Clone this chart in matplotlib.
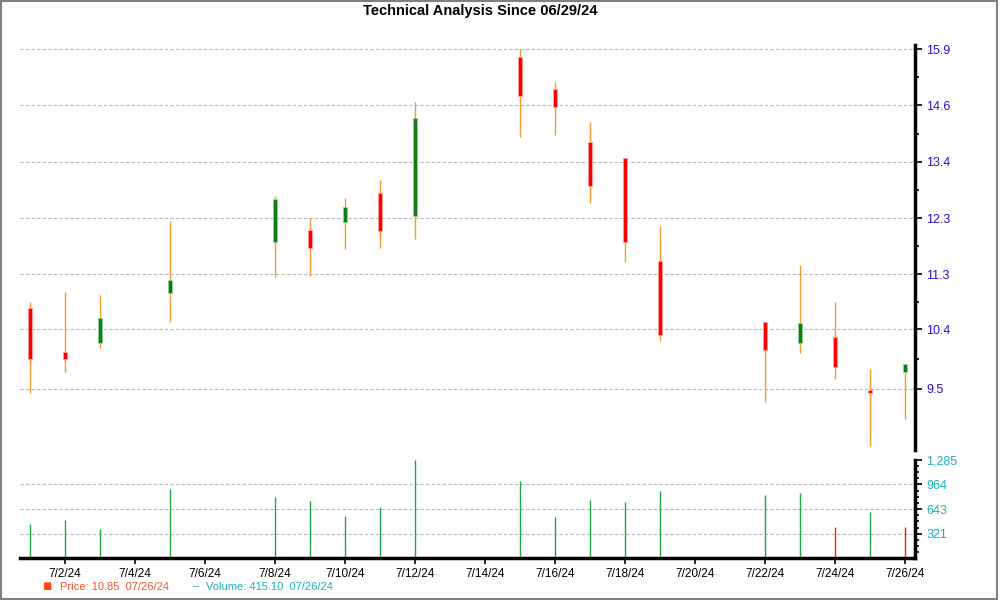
import matplotlib
matplotlib.use("Agg")
import matplotlib.pyplot as plt
import matplotlib.dates as mdates
from matplotlib.patches import Rectangle
from matplotlib.ticker import FixedLocator, NullFormatter
import numpy as np
import pandas as pd

plt.rcParams['font.family'] = ['Liberation Sans', 'DejaVu Sans']

#### DATA ####

dates = ["2024-07-01", "2024-07-02", "2024-07-03", "2024-07-05", "2024-07-08",
         "2024-07-09", "2024-07-10", "2024-07-11", "2024-07-12", "2024-07-15",
         "2024-07-16", "2024-07-17", "2024-07-18", "2024-07-19", "2024-07-22",
         "2024-07-23", "2024-07-24", "2024-07-25", "2024-07-26"]

opens  = [10.74, 10.05, 10.19, 10.99, 11.86, 12.08, 12.24, 12.78, 12.34, 15.72,
          14.96, 13.82, 13.49, 11.54, 10.52, 10.18, 10.27, 9.49, 9.74]
highs  = [10.83, 11.00, 10.95, 12.25, 12.73, 12.31, 12.68, 13.04, 14.68, 15.90,
          15.13, 14.24, 13.49, 12.16, 10.52, 11.47, 10.84, 9.79, 9.86]
lows   = [9.44, 9.74, 10.10, 10.52, 11.26, 11.28, 11.74, 11.76, 11.92, 13.92,
          13.96, 12.59, 11.51, 10.21, 9.32, 10.03, 9.64, 8.71, 9.07]
closes = [9.94, 9.94, 10.58, 11.20, 12.66, 11.77, 12.51, 12.06, 14.32, 14.80,
          14.56, 12.92, 11.86, 10.31, 10.08, 10.50, 9.82, 9.44, 9.86]

volumes = [448, 500, 383, 905, 800, 748, 552, 670, 1284, 1015,
           545, 767, 740, 884, 832, 858, 415, 610, 415]
volume_up = [1, 1, 1, 1, 1, 1, 1, 1, 1, 1,
             1, 1, 1, 1, 1, 1, 0, 1, 0]

price_ticks = [9.5, 10.4, 11.3, 12.3, 13.4, 14.6, 15.9]
volume_ticks = [321, 643, 964, 1285]
volume_labels = ["321", "643", "964", "1,285"]

tick_dates = ["2024-07-02", "2024-07-04", "2024-07-06", "2024-07-08", "2024-07-10",
              "2024-07-12", "2024-07-14", "2024-07-16", "2024-07-18", "2024-07-20",
              "2024-07-22", "2024-07-24", "2024-07-26"]
tick_labels = ["7/2/24", "7/4/24", "7/6/24", "7/8/24", "7/10/24", "7/12/24", "7/14/24",
               "7/16/24", "7/18/24", "7/20/24", "7/22/24", "7/24/24", "7/26/24"]

title = "Technical Analysis Since 06/29/24"
price_legend = "Price: 10.85  07/26/24"
volume_legend = "Volume: 415.10  07/26/24"

#### COLOURS ####

wick_col = '#f39a2a'
up_col, up_edge = '#0a7f12', '#8fcf93'
down_col, down_edge = '#ff0000', '#ff9a9a'
vol_up_col, vol_down_col = '#1fa843', '#ff1a00'
price_lab_col = '#2a10c8'
vol_lab_col = '#1ab0b8'
grid_col = '#b8b8b8'

x = mdates.date2num(pd.to_datetime(dates))
opens = np.asarray(opens)
closes = np.asarray(closes)
up = closes >= opens

fig = plt.figure(figsize=(10, 6), dpi=100)
ax = fig.add_axes([0.02, 1 - 450/600, 0.895, (450 - 44.5)/600])
axv = fig.add_axes([0.02, 1 - 558.3/600, 0.895, (558.3 - 459.5)/600], sharex=ax)

#### PRICE PANEL ####

ax.vlines(x, lows, highs, color=wick_col, lw=1.0, zorder=2)
body_low = np.minimum(opens, closes)
body_h = np.abs(closes - opens)
body_h = np.maximum(body_h, 0.04)
ax.bar(x, body_h, bottom=body_low, width=0.14,
       color=np.where(up, up_col, down_col),
       edgecolor=np.where(up, up_edge, down_edge), linewidth=0.7, zorder=3)

ax.set_yscale('log')
ax.set_ylim(8.66, 16.01)
ax.yaxis.tick_right()
ax.yaxis.set_major_locator(FixedLocator(price_ticks))
ax.set_yticklabels(["%.1f" % t for t in price_ticks])
mids = [np.sqrt(a*b) for a, b in zip(price_ticks[:-1], price_ticks[1:])]
mids = mids + [price_ticks[-1]*np.sqrt(price_ticks[-1]/price_ticks[-2])]
ax.yaxis.set_minor_locator(FixedLocator(mids))
ax.yaxis.set_minor_formatter(NullFormatter())
ax.tick_params(axis='y', which='major', length=5, width=1.2, colors='black',
               labelcolor=price_lab_col, labelsize=9, pad=3)
ax.tick_params(axis='y', which='minor', length=3, width=1.2, colors='black')
ax.tick_params(axis='x', which='both', bottom=False, labelbottom=False)
ax.grid(axis='y', which='major', color=grid_col, linestyle=(0, (3, 2)), lw=0.8)
for s in ['top', 'left', 'bottom']:
    ax.spines[s].set_visible(False)
ax.spines['right'].set_linewidth(2.5)

#### VOLUME PANEL ####

axv.vlines(x, 0, volumes, colors=[vol_up_col if u else vol_down_col for u in volume_up],
           lw=1.0, zorder=2)
axv.set_ylim(0, 1290)
axv.yaxis.tick_right()
axv.yaxis.set_major_locator(FixedLocator(volume_ticks))
axv.set_yticklabels(volume_labels)
axv.yaxis.set_minor_locator(FixedLocator(np.arange(1, 16) * 1285 / 16))
axv.tick_params(axis='y', which='major', length=5, width=1.2, colors='black',
                labelcolor=vol_lab_col, labelsize=9, pad=3)
axv.tick_params(axis='y', which='minor', length=3, width=1.2, colors='black')
axv.grid(axis='y', which='major', color=grid_col, linestyle=(0, (3, 2)), lw=0.8)
axv.yaxis.get_gridlines()[-1].set_visible(False)
for s in ['top', 'left']:
    axv.spines[s].set_visible(False)
axv.spines['right'].set_linewidth(2.5)
axv.spines['bottom'].set_linewidth(2.5)

axv.set_xlim(x[0] - 0.286, x[-1] + 0.286)
axv.set_xticks(mdates.date2num(pd.to_datetime(tick_dates)))
axv.set_xticklabels(tick_labels)
axv.tick_params(axis='x', length=4, width=1.2, labelsize=8.5, pad=3)

#### TEXTS ####

fig.text(0.48, 1 - 11/600, title, ha='center', va='center',
         fontsize=10.5, fontweight='bold')
fig.text(0.047, 1 - 586/600, "\u25a0", ha='center', va='center',
         color='#ff4a10', fontsize=7, family=['DejaVu Sans'])
fig.text(0.060, 1 - 587/600, price_legend, ha='left', va='center',
         color='#f0542e', fontsize=8)
fig.text(0.196, 1 - 586/600, "\u2013", ha='center', va='center',
         color=vol_lab_col, fontsize=8)
fig.text(0.206, 1 - 587/600, volume_legend, ha='left', va='center',
         color=vol_lab_col, fontsize=8)

fig.patches.append(Rectangle((0.001, 0.002), 0.996, 0.997, transform=fig.transFigure,
                             fill=False, edgecolor='#808080', lw=1.5))

fig.savefig('out.png', dpi=100)
